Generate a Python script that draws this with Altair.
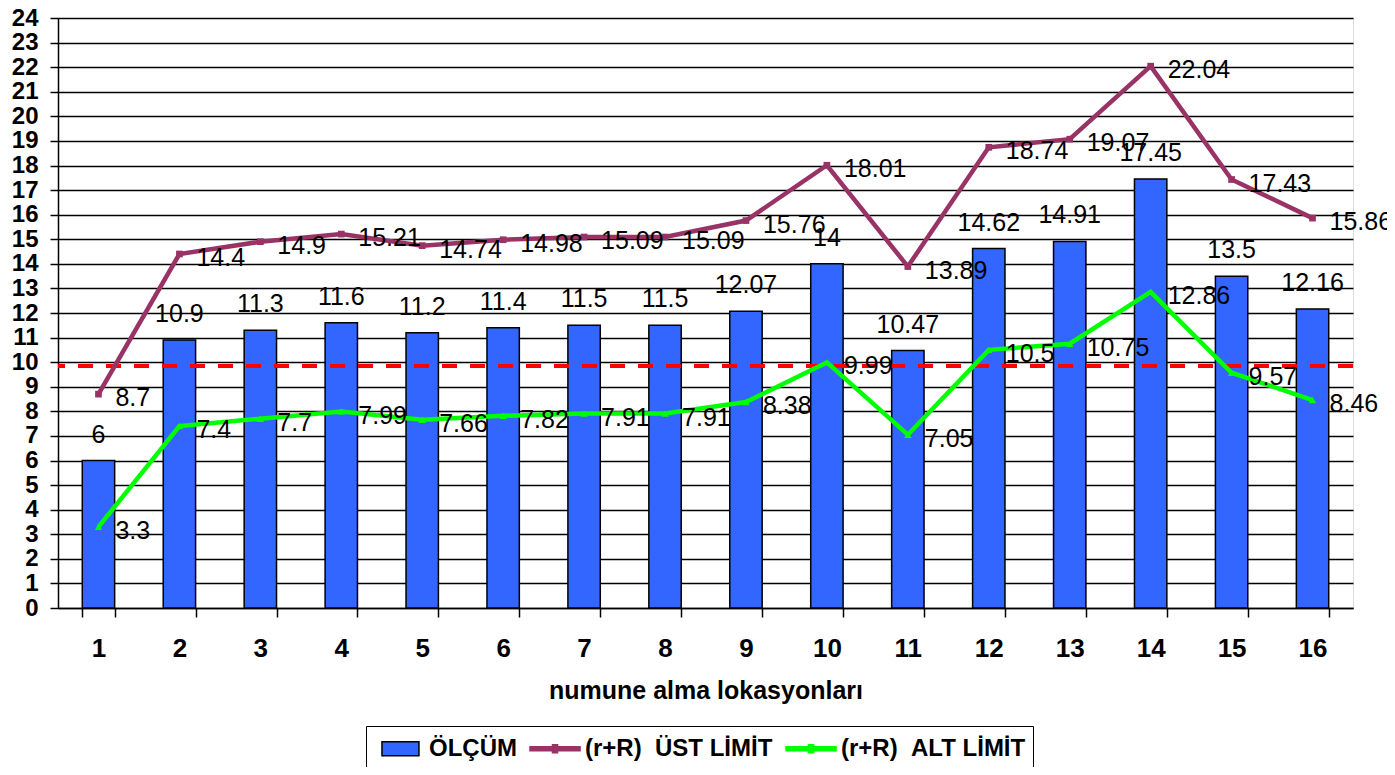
import altair as alt
import pandas as pd

locations = [str(i) for i in range(1, 17)]
olcum = [6, 10.9, 11.3, 11.6, 11.2, 11.4, 11.5, 11.5, 12.07, 14, 10.47, 14.62, 14.91, 17.45, 13.5, 12.16]
ust_limit = [8.7, 14.4, 14.9, 15.21, 14.74, 14.98, 15.09, 15.09, 15.76, 18.01, 13.89, 18.74, 19.07, 22.04, 17.43, 15.86]
alt_limit = [3.3, 7.4, 7.7, 7.99, 7.66, 7.82, 7.91, 7.91, 8.38, 9.99, 7.05, 10.5, 10.75, 12.86, 9.57, 8.46]
y_ticks = list(range(0, 25))
reference_level = 9.85

series_names = ["ÖLÇÜM", "(r+R)\u00a0\u00a0ÜST LİMİT", "(r+R)\u00a0\u00a0ALT LİMİT"]
fill_colors = ["#3366FF", "#993366", "#00FF00"]
stroke_colors = ["black", "#993366", "#00FF00"]
# legend symbol paths (unit radius = 14.5 px)
legend_shapes = [
    "M-0.45,-0.48H2.1V0.48H-0.45Z",
    "M-1,-0.14H2.45V0.14H-1Z M0.55,-0.28H0.9V0.28H0.55Z",
    "M-1,-0.14H2.45V0.14H-1Z M0.55,-0.28H0.9V0.28H0.55Z",
]

rows = []
for name, vals in zip(series_names, [olcum, ust_limit, alt_limit]):
    for loc, v in zip(locations, vals):
        rows.append({"loc": loc, "value": v, "series": name, "label": f"{v:g}"})
df = pd.DataFrame(rows)

FONT = "Liberation Sans"

x_enc = alt.X(
    "loc:N",
    sort=locations,
    scale=alt.Scale(paddingInner=0.6, paddingOuter=0.3),
    axis=alt.Axis(
        title="numune alma lokasyonları",
        labelAngle=0,
        labelFont=FONT,
        labelFontSize=26,
        labelFontWeight="bold",
        labelColor="black",
        labelPadding=18,
        titleFont=FONT,
        titleFontSize=25,
        titleFontWeight="bold",
        titleColor="black",
        titlePadding=17,
        tickBand="extent",
        tickSize=9,
        tickColor="black",
        tickWidth=1.5,
        domainColor="black",
        domainWidth=1.5,
        grid=False,
    ),
)
y_scale = alt.Scale(domain=[0, 24], nice=False)
y_axis = alt.Axis(
    title=None,
    values=y_ticks,
    tickCount=25,
    labelOverlap=False,
    labelFont=FONT,
    labelFontSize=24,
    labelFontWeight="bold",
    labelColor="black",
    labelPadding=12,
    tickSize=8,
    tickColor="black",
    tickWidth=1.5,
    domainColor="black",
    domainWidth=1.5,
    grid=True,
    gridColor="black",
    gridWidth=1.5,
    gridOpacity=1,
)
y_enc = alt.Y("value:Q", scale=y_scale, axis=y_axis)

legend = alt.Legend(
    title=None,
    orient="none",
    direction="horizontal",
    legendX=308,
    legendY=708,
    labelFont=FONT,
    labelFontSize=24,
    labelFontWeight="bold",
    labelColor="black",
    labelLimit=400,
    labelOffset=25,
    columnPadding=10,
    symbolSize=841,
    symbolStrokeWidth=1.5,
    symbolOpacity=1,
    padding=7,
    strokeColor="black",
    fillColor="white",
)

fill_enc = alt.Fill("series:N", scale=alt.Scale(domain=series_names, range=fill_colors), sort=series_names, legend=legend)
stroke_enc = alt.Stroke("series:N", scale=alt.Scale(domain=series_names, range=stroke_colors), sort=series_names, legend=legend)
shape_enc = alt.Shape("series:N", scale=alt.Scale(domain=series_names, range=legend_shapes), sort=series_names, legend=legend)

base = alt.Chart(df)
x_plain = alt.X("loc:N", sort=locations)

bars = base.transform_filter(alt.datum.series == series_names[0]).mark_bar(strokeWidth=1.5).encode(
    x=x_enc, y=y_enc, fill=fill_enc, stroke=stroke_enc
)

bar_labels = base.transform_filter(alt.datum.series == series_names[0]).mark_text(
    font=FONT, fontSize=25, color="black", baseline="middle", dy=-26
).encode(x=x_plain, y=y_enc, text="label:N")

ref_rule = base.mark_rule(color="#FF0000", strokeWidth=3.5, strokeDash=[15, 13]).encode(
    y=alt.YDatum(reference_level, scale=y_scale, axis=y_axis)
)

is_line = alt.datum.series != series_names[0]

lines = base.transform_filter(is_line).mark_line(strokeWidth=4.5).encode(
    x=x_plain, y=y_enc, stroke=stroke_enc, detail="series:N"
)

ust_markers = base.transform_filter(alt.datum.series == series_names[1]).mark_point(
    shape="square", filled=True, size=45, opacity=1, color="#993366"
).encode(x=x_plain, y=y_enc)

alt_markers = base.transform_filter(alt.datum.series == series_names[2]).mark_point(
    shape="triangle-up", filled=True, size=55, opacity=1, color="#00FF00"
).encode(x=x_plain, y=y_enc)

legend_only = base.transform_filter("false").mark_point(filled=True).encode(
    x=x_plain, y=y_enc, fill=fill_enc, stroke=stroke_enc, shape=shape_enc
)

line_labels = base.transform_filter(is_line).mark_text(
    font=FONT, fontSize=25, color="black", align="left", baseline="middle", dx=17, dy=4
).encode(x=x_plain, y=y_enc, text="label:N")

chart = (
    alt.layer(bars, bar_labels, ref_rule, lines, ust_markers, alt_markers, legend_only, line_labels)
    .properties(
        width=1295,
        height=590,
        autosize=alt.AutoSizeParams(type="none"),
        padding={"left": 50, "top": 10, "right": 34, "bottom": 159},
    )
    .configure_view(stroke="black", strokeWidth=1.5)
    .configure_axisY(labelOverlap=False)
    .configure(background="white")
)

chart.save("out.html", embed_options={"renderer": "svg", "actions": False})
